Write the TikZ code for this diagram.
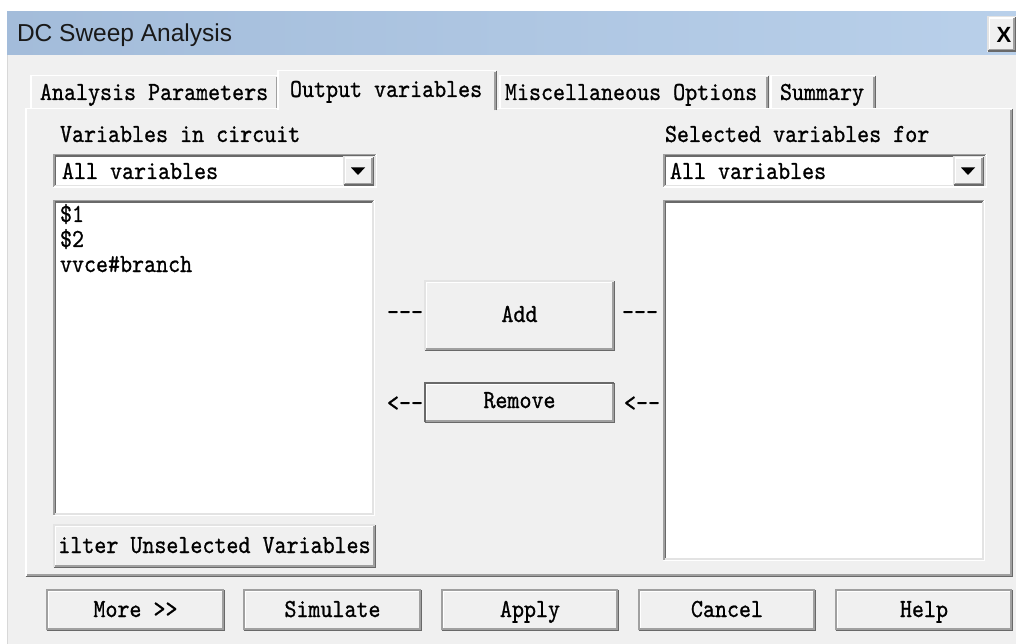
\documentclass[tikz,border=0pt]{standalone}
\usepackage{fontspec}
\usepackage{graphicx}
\usetikzlibrary{fit}
\newfontfamily\titlefont{Liberation Sans}
\newfontfamily\uimono{lmmono10-regular.otf}[FakeBold=0.9]

\definecolor{dlgbg}{HTML}{F0F0F0}
\definecolor{edgeLight}{HTML}{E3E3E3}
\definecolor{edgeShadow}{HTML}{A0A0A0}
\definecolor{edgeDark}{HTML}{696969}
\definecolor{barL}{HTML}{A3BCDA}
\definecolor{barR}{HTML}{B9D0EA}
\definecolor{frameLine}{HTML}{D8D8D8}

% narrow the typewriter face to the dialog's character pitch
\newcommand\mono[1]{\scalebox{0.88}[1]{#1}}

% two-layer 3D edge round a named node:
% #1 node, #2 outer top-left, #3 outer bottom-right, #4 inner top-left, #5 inner bottom-right
\newcommand\bevel[5]{%
  \draw[line width=1.5pt,#2] ([shift={(.75pt,.75pt)}]#1.south west) |- ([shift={(-.75pt,-.75pt)}]#1.north east);
  \draw[line width=1.5pt,#3] ([shift={(.75pt,.75pt)}]#1.south west) -| ([shift={(-.75pt,-.75pt)}]#1.north east);
  \draw[line width=1.5pt,#4] ([shift={(2.25pt,2.25pt)}]#1.south west) |- ([shift={(-2.25pt,-2.25pt)}]#1.north east);
  \draw[line width=1.5pt,#5] ([shift={(2.25pt,2.25pt)}]#1.south west) -| ([shift={(-2.25pt,-2.25pt)}]#1.north east);
}
\newcommand\raised[1]{\bevel{#1}{edgeLight}{edgeDark}{white}{edgeShadow}}
\newcommand\sunken[1]{\bevel{#1}{edgeShadow}{white}{edgeDark}{edgeLight}}
\newcommand\pushbtn[1]{\bevel{#1}{edgeShadow}{edgeDark}{white}{edgeShadow}}
% tab ears: white left and top, shaded right
\newcommand\tabedges[1]{%
  \draw[line width=1.5pt,white] ([shift={(.75pt,0pt)}]#1.south west) |- ([shift={(-.75pt,-.75pt)}]#1.north east);
  \draw[line width=1.5pt,edgeDark] ([shift={(-.75pt,0pt)}]#1.south east) -- ([shift={(-.75pt,-.75pt)}]#1.north east);
  \draw[line width=1.5pt,edgeShadow] ([shift={(-2.25pt,0pt)}]#1.south east) -- ([shift={(-2.25pt,-2.25pt)}]#1.north east);
}

\begin{document}
\begin{tikzpicture}[x=1pt,y=-1pt,
  every node/.style={inner sep=0pt,outer sep=0pt},
  ui/.style={font=\uimono\fontsize{26}{30}\selectfont,text=black},
  lbl/.style={ui,anchor=base west},
  btntext/.style={ui,anchor=base},
  area/.style={fill=dlgbg,draw=none},
  field/.style={fill=white,draw=none}]

\useasboundingbox (0,0) rectangle (1016,644);
\fill[white] (0,0) rectangle (1016,644);

% window body and caption bar
\fill[dlgbg] (7,12) rectangle (1016,644);
\draw[frameLine,line width=1pt] (7.5,12) -- (7.5,644);
\shade[left color=barL,right color=barR] (7,12) rectangle (1016,55);
\node[anchor=base west,font=\titlefont\fontsize{24.5}{28}\selectfont,text={black!90}] (title) at (17,42) {DC Sweep Analysis};

\node[area,fit={(987,16) (1016,52)}] (close) {};
\raised{close}
\node[font=\titlefont\bfseries\fontsize{22}{26}\selectfont] (closex) at (1004,35) {X};

% tab strip
\node[area,fit={(30,75) (279,108)}] (tabA) {};
\tabedges{tabA}
\node[area,fit={(499,75) (769,108)}] (tabC) {};
\tabedges{tabC}
\node[area,fit={(770,75) (876,108)}] (tabD) {};
\tabedges{tabD}

% tab page
\node[area,fit={(25,108) (1013,577)}] (page) {};
\bevel{page}{white}{edgeDark}{dlgbg}{edgeShadow}

\node[area,fit={(277,70) (497,110.5)}] (tabB) {};
\tabedges{tabB}

\node[lbl] (tabAtext) at (40,100) {\mono{Analysis Parameters}};
\node[lbl] (tabBtext) at (290,97) {\mono{Output variables}};
\node[lbl] (tabCtext) at (505,100) {\mono{Miscellaneous Options}};
\node[lbl] (tabDtext) at (780,100) {\mono{Summary}};

% left column
\node[lbl] (leftlabel) at (60,142) {\mono{Variables in circuit}};
\node[field,fit={(53,154) (377,188)}] (leftcombo) {};
\sunken{leftcombo}
\node[lbl] (leftcombotext) at (62,179) {\mono{All variables}};
\node[area,fit={(343,156) (374,186)}] (leftdrop) {};
\raised{leftdrop}
\fill[black] (351,167.5) -- (365,167.5) -- (358,175) -- cycle;

\node[field,fit={(53,200) (375,516)}] (leftlist) {};
\sunken{leftlist}
\node[lbl] (item1) at (60,222) {\mono{\$1}};
\node[lbl] (item2) at (60,247) {\mono{\$2}};
\node[lbl] (item3) at (60,272) {\mono{vvce\#branch}};

\node[area,fit={(53,524) (376,568)}] (filter) {};
\raised{filter}
\node[btntext] (filtertext) at (214.5,553) {\mono{ilter Unselected Variables}};

% right column
\node[lbl] (rightlabel) at (665,142) {\mono{Selected variables for}};
\node[field,fit={(663,154) (987,188)}] (rightcombo) {};
\sunken{rightcombo}
\node[lbl] (rightcombotext) at (670,179) {\mono{All variables}};
\node[area,fit={(953,156) (984,186)}] (rightdrop) {};
\raised{rightdrop}
\fill[black] (961,167.5) -- (975,167.5) -- (968,175) -- cycle;

\node[field,fit={(663,200) (985,561)}] (rightlist) {};
\sunken{rightlist}

% transfer buttons
\node[area,fit={(424,280) (615,351)}] (add) {};
\raised{add}
\node[btntext] (addtext) at (519.5,322) {\mono{Add}};
\node[area,fit={(424,382) (615,423)}] (remove) {};
\bevel{remove}{edgeDark}{edgeDark}{white}{edgeShadow}
\node[btntext] (removetext) at (519.5,408) {\mono{Remove}};

\node[lbl] (addL) at (387,320) {\mono{---}};
\node[lbl] (addR) at (622,320) {\mono{---}};
\node[lbl] (remL) at (387,411) {\mono{<--}};
\node[lbl] (remR) at (624,411) {\mono{<--}};

% dialog buttons
\node[area,fit={(46,589) (225,631)}] (more) {};
\pushbtn{more}
\node[btntext] (moretext) at (135.5,617) {\mono{More >{}>}};
\node[area,fit={(243,589) (422,631)}] (simulate) {};
\pushbtn{simulate}
\node[btntext] (simulatetext) at (332.5,617) {\mono{Simulate}};
\node[area,fit={(441,589) (619,631)}] (apply) {};
\pushbtn{apply}
\node[btntext] (applytext) at (530,617) {\mono{Apply}};
\node[area,fit={(638,589) (816,631)}] (cancel) {};
\pushbtn{cancel}
\node[btntext] (canceltext) at (727,617) {\mono{Cancel}};
\node[area,fit={(835,589) (1013,631)}] (help) {};
\pushbtn{help}
\node[btntext] (helptext) at (924,617) {\mono{Help}};
\end{tikzpicture}
\end{document}
